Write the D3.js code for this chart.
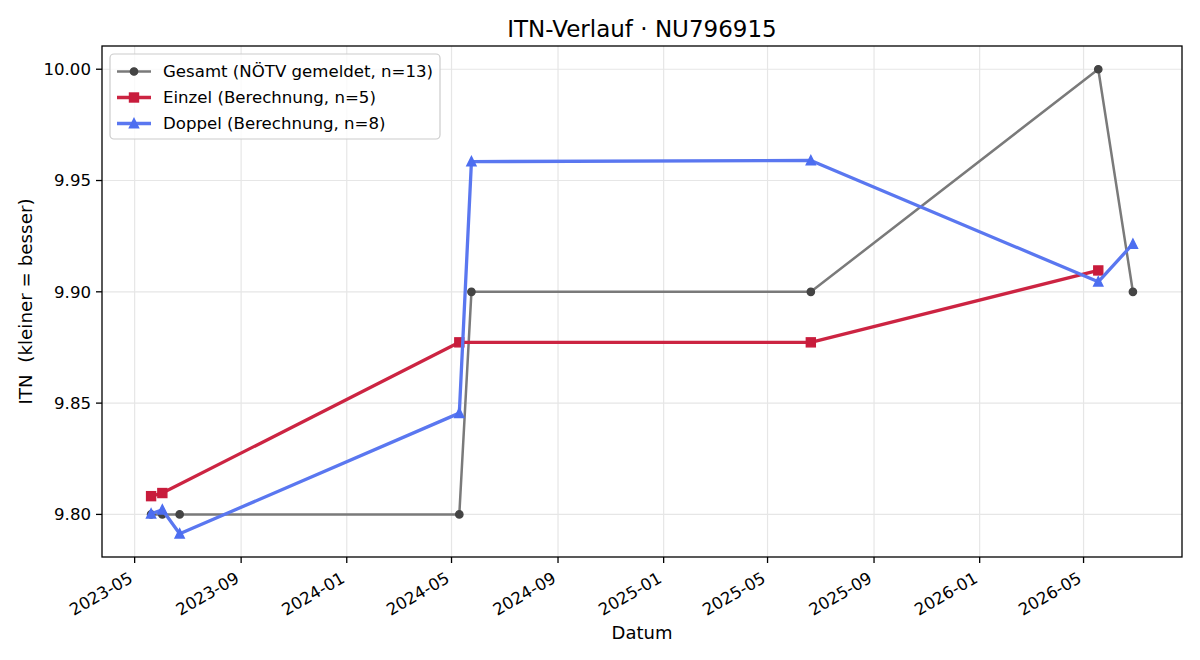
<!DOCTYPE html>
<html>
<head>
<meta charset="utf-8">
<script src="https://cdn.jsdelivr.net/npm/d3@7"></script>
<style>
  body { margin: 0; background: #fff; }
  svg { font-family: "DejaVu Sans", sans-serif; }
</style>
</head>
<body>
<div id="chart"></div>
<script>
const width = 1200;
const height = 660;
const margin = {top: 46, right: 18, bottom: 103, left: 102};

// data
const gesamtDates = ["2023-05-20", "2023-06-02", "2023-06-22", "2024-05-10", "2024-05-24", "2025-06-20", "2026-05-18", "2026-06-27"];
const gesamtValues = [9.80, 9.80, 9.80, 9.80, 9.90, 9.90, 10.00, 9.90];

const einzelDates = ["2023-05-20", "2023-06-02", "2024-05-10", "2025-06-20", "2026-05-18"];
const einzelValues = [9.8082, 9.8096, 9.8773, 9.8773, 9.9096];

const doppelDates = ["2023-05-20", "2023-06-02", "2023-06-22", "2024-05-10", "2024-05-24", "2025-06-20", "2026-05-18", "2026-06-27"];
const doppelValues = [9.8003, 9.8021, 9.7913, 9.8455, 9.9585, 9.9590, 9.9045, 9.9215];

const yTicks = [9.80, 9.85, 9.90, 9.95, 10.00];

const seriesNames = ["Gesamt (NÖTV gemeldet, n=13)", "Einzel (Berechnung, n=5)", "Doppel (Berechnung, n=8)"];

const parse = d3.timeParse("%Y-%m-%d");
const toPoints = (dates, vals) => dates.map((d, i) => ({date: parse(d), value: vals[i]}));

const series = [
    {name: seriesNames[0], pts: toPoints(gesamtDates, gesamtValues), line: "#7a7a7a", mark: "#444444", shape: "circle", lw: 2.5},
    {name: seriesNames[1], pts: toPoints(einzelDates, einzelValues), line: "#cc2442", mark: "#c81c3c", shape: "square", lw: 3.3},
    {name: seriesNames[2], pts: toPoints(doppelDates, doppelValues), line: "#5a77f0", mark: "#4d6ef0", shape: "triangle", lw: 3.3}
];

const svg = d3.select("#chart")
    .append("svg")
        .attr("width", width)
        .attr("height", height);

const iw = width - margin.left - margin.right;
const ih = height - margin.top - margin.bottom;

// matplotlib-like 5% padding
const allPts = series.flatMap(s => s.pts);
const xExt = d3.extent(allPts, d => +d.date);
const xPad = (xExt[1] - xExt[0]) * 0.05;
const yExt = d3.extent(allPts, d => d.value);
const yPad = (yExt[1] - yExt[0]) * 0.05;

const x = d3.scaleTime()
    .domain([new Date(xExt[0] - xPad), new Date(xExt[1] + xPad)])
    .range([margin.left, margin.left + iw]);

const y = d3.scaleLinear()
    .domain([yExt[0] - yPad, yExt[1] + yPad])
    .range([margin.top + ih, margin.top]);

const xTicks = x.ticks(d3.timeMonth.every(4));

// grid
const grid = svg.append("g");
grid.selectAll(".gx")
    .data(xTicks)
    .join("line")
        .attr("x1", d => x(d)).attr("x2", d => x(d))
        .attr("y1", margin.top).attr("y2", margin.top + ih)
        .attr("stroke", "#e6e6e6")
        .attr("stroke-width", 1.2);
grid.selectAll(".gy")
    .data(yTicks)
    .join("line")
        .attr("x1", margin.left).attr("x2", margin.left + iw)
        .attr("y1", d => y(d)).attr("y2", d => y(d))
        .attr("stroke", "#e6e6e6")
        .attr("stroke-width", 1.2);

// lines + markers
const line = d3.line()
    .x(d => x(d.date))
    .y(d => y(d.value));

series.forEach(s => {
    const g = svg.append("g");
    g.append("path")
        .datum(s.pts)
        .attr("d", line)
        .attr("fill", "none")
        .attr("stroke", s.line)
        .attr("stroke-width", s.lw)
        .attr("stroke-linejoin", "round");
    drawMarkers(g, s.pts.map(p => [x(p.date), y(p.value)]), s);
});

function drawMarkers(g, coords, s) {
    if (s.shape === "circle") {
        g.selectAll("circle")
            .data(coords)
            .join("circle")
                .attr("cx", d => d[0]).attr("cy", d => d[1])
                .attr("r", 3.7)
                .attr("fill", s.mark)
                .attr("stroke", s.mark)
                .attr("stroke-width", 1.3);
    } else if (s.shape === "square") {
        g.selectAll("rect")
            .data(coords)
            .join("rect")
                .attr("x", d => d[0] - 4.5).attr("y", d => d[1] - 4.5)
                .attr("width", 9).attr("height", 9)
                .attr("fill", s.mark)
                .attr("stroke", s.mark)
                .attr("stroke-width", 1.4);
    } else {
        g.selectAll("path.m")
            .data(coords)
            .join("path")
                .attr("class", "m")
                .attr("d", d => `M${d[0]},${d[1] - 5}L${d[0] - 4.6},${d[1] + 4.3}L${d[0] + 4.6},${d[1] + 4.3}Z`)
                .attr("fill", s.mark)
                .attr("stroke", s.mark)
                .attr("stroke-width", 1.4)
                .attr("stroke-linejoin", "miter");
    }
}

// frame
svg.append("rect")
    .attr("x", margin.left).attr("y", margin.top)
    .attr("width", iw).attr("height", ih)
    .attr("fill", "none")
    .attr("stroke", "#000")
    .attr("stroke-width", 1.3);

// x axis
const xAxis = svg.append("g");
xAxis.selectAll("line")
    .data(xTicks)
    .join("line")
        .attr("x1", d => x(d)).attr("x2", d => x(d))
        .attr("y1", margin.top + ih).attr("y2", margin.top + ih + 6)
        .attr("stroke", "#000")
        .attr("stroke-width", 1.3);
const fmt = d3.timeFormat("%Y-%m");
xAxis.selectAll("text")
    .data(xTicks)
    .join("text")
        .attr("transform", d => `translate(${x(d) - 8.5},${margin.top + ih + 11}) rotate(-30)`)
        .attr("text-anchor", "end")
        .attr("dy", "0.93em")
        .attr("font-size", 16.6)
        .attr("fill", "#000")
        .text(d => fmt(d));

// y axis
const yAxis = svg.append("g");
yAxis.selectAll("line")
    .data(yTicks)
    .join("line")
        .attr("x1", margin.left - 6).attr("x2", margin.left)
        .attr("y1", d => y(d)).attr("y2", d => y(d))
        .attr("stroke", "#000")
        .attr("stroke-width", 1.3);
yAxis.selectAll("text")
    .data(yTicks)
    .join("text")
        .attr("x", margin.left - 11)
        .attr("y", d => y(d))
        .attr("dy", "0.35em")
        .attr("text-anchor", "end")
        .attr("font-size", 16.6)
        .attr("fill", "#000")
        .text(d => d3.format(".2f")(d));

// labels
svg.append("text")
    .attr("x", margin.left + iw / 2)
    .attr("y", 36.5)
    .attr("text-anchor", "middle")
    .attr("font-size", 23)
    .text("ITN-Verlauf · NU796915");

svg.append("text")
    .attr("x", margin.left + iw / 2)
    .attr("y", 639)
    .attr("text-anchor", "middle")
    .attr("font-size", 18)
    .text("Datum");

svg.append("text")
    .attr("transform", `translate(31.5,${margin.top + ih / 2}) rotate(-90)`)
    .attr("text-anchor", "middle")
    .attr("font-size", 18.3)
    .attr("xml:space", "preserve")
    .style("white-space", "pre")
    .text("ITN  (kleiner = besser)");

// legend
const legend = svg.append("g");
legend.append("rect")
    .attr("x", 110).attr("y", 54)
    .attr("width", 330).attr("height", 85)
    .attr("rx", 4)
    .attr("fill", "#fff")
    .attr("fill-opacity", 0.8)
    .attr("stroke", "#cccccc")
    .attr("stroke-width", 1.2);

series.forEach((s, i) => {
    const cy = 71.5 + i * 26;
    const g = legend.append("g");
    g.append("line")
        .attr("x1", 117).attr("x2", 151)
        .attr("y1", cy).attr("y2", cy)
        .attr("stroke", s.line)
        .attr("stroke-width", s.lw);
    drawMarkers(g, [[134, cy]], s);
    g.append("text")
        .attr("x", 163)
        .attr("y", cy)
        .attr("dy", "0.35em")
        .attr("font-size", 16.6)
        .text(s.name);
});
</script>
</body>
</html>
